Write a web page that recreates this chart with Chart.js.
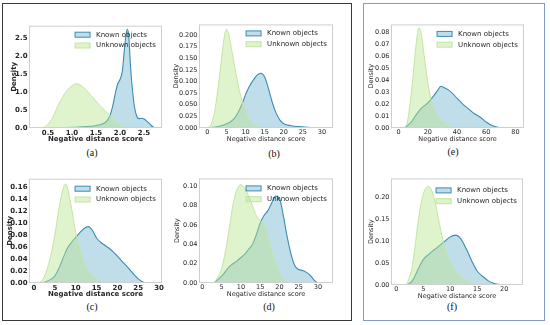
<!DOCTYPE html>
<html>
<head>
<meta charset="utf-8">
<script src="https://cdn.jsdelivr.net/npm/chart.js@4.4.0/dist/chart.umd.min.js"></script>
<style>
  body { margin: 0; background: #fff; width: 550px; height: 325px; overflow: hidden; position: relative; }
  canvas { position: absolute; }
  .box { position: absolute; box-sizing: border-box; }
  .cap { position: absolute; font: 10px "Liberation Serif"; color: #111; transform: translate(-50%, -50%); }
</style>
</head>
<body>
<div class="box" style="left:2px;top:3px;width:350px;height:318px;border:1.5px solid #3a3a3a"></div>
<div class="box" style="left:363px;top:3px;width:182px;height:318px;border:1.5px solid #7d9ccb"></div>
<script>
const legendLabels = ['Known objects', 'Unknown objects'];

// (a)
const aKnownX = [0.6, 0.8, 1.0, 1.2, 1.4, 1.5, 1.6, 1.7, 1.75, 1.8, 1.85, 1.9, 1.95, 2.0, 2.05, 2.1, 2.15, 2.18, 2.22, 2.26, 2.3, 2.35, 2.4, 2.45, 2.5, 2.55, 2.6, 2.65, 2.7, 2.75];
const aKnownY = [0, 0.01, 0.02, 0.03, 0.05, 0.07, 0.1, 0.16, 0.24, 0.38, 0.62, 0.95, 1.22, 1.35, 1.6, 2.3, 2.75, 2.6, 1.7, 1.05, 0.6, 0.32, 0.26, 0.27, 0.25, 0.2, 0.14, 0.07, 0.02, 0];
const aUnknownX = [0.2, 0.4, 0.5, 0.6, 0.7, 0.8, 0.9, 1.0, 1.1, 1.2, 1.3, 1.4, 1.5, 1.6, 1.7, 1.8, 1.9, 2.0, 2.1, 2.2];
const aUnknownY = [0, 0.02, 0.1, 0.3, 0.6, 0.85, 1.05, 1.18, 1.23, 1.17, 1.05, 0.9, 0.75, 0.6, 0.47, 0.33, 0.2, 0.08, 0.02, 0];
const aTicksX = [0.5, 1.0, 1.5, 2.0, 2.5];
const aTicksY = [0, 0.5, 1.0, 1.5, 2.0, 2.5];

// (b)
const bKnownX = [0, 2, 4, 6, 7, 8, 9, 10, 11, 12, 13, 14, 15, 16, 17, 18, 19, 20, 22, 24, 27, 30];
const bKnownY = [0, 0.002, 0.006, 0.013, 0.02, 0.033, 0.05, 0.072, 0.09, 0.103, 0.114, 0.118, 0.11, 0.085, 0.055, 0.032, 0.017, 0.009, 0.005, 0.003, 0.001, 0];
const bUnknownX = [0, 1, 2, 3, 4, 4.5, 5, 5.5, 6, 7, 8, 9, 10, 11, 12, 13, 14, 15];
const bUnknownY = [0, 0.008, 0.04, 0.1, 0.17, 0.2, 0.213, 0.205, 0.185, 0.14, 0.095, 0.06, 0.035, 0.018, 0.008, 0.003, 0.001, 0];
const bTicksX = [0, 5, 10, 15, 20, 25, 30];
const bTicksY = [0, 0.025, 0.05, 0.075, 0.1, 0.125, 0.15, 0.175, 0.2];

// (c)
const cKnownX = [2, 4, 5, 6, 7, 8, 9, 10, 11, 12, 13, 14, 15, 16, 17, 18, 19, 20, 21, 22, 23, 24, 25, 26, 27];
const cKnownY = [0, 0.006, 0.012, 0.025, 0.042, 0.058, 0.068, 0.076, 0.084, 0.091, 0.094, 0.088, 0.075, 0.068, 0.063, 0.058, 0.052, 0.045, 0.037, 0.03, 0.022, 0.014, 0.007, 0.002, 0];
const cUnknownX = [1, 2, 3, 4, 5, 6, 7, 7.5, 8, 9, 10, 11, 12, 13, 14, 15, 16, 17];
const cUnknownY = [0, 0.005, 0.02, 0.045, 0.08, 0.125, 0.158, 0.165, 0.16, 0.125, 0.085, 0.055, 0.033, 0.02, 0.012, 0.007, 0.003, 0];
const cTicksX = [0, 5, 10, 15, 20, 25, 30];
const cTicksY = [0, 0.02, 0.04, 0.06, 0.08, 0.1, 0.12, 0.14, 0.16];

// (d)
const dKnownX = [3, 5, 7, 9, 11, 12, 13, 14, 15, 16, 17, 18, 19, 20, 21, 22, 23, 24, 25, 26, 27, 28, 29, 30];
const dKnownY = [0, 0.007, 0.017, 0.023, 0.03, 0.035, 0.04, 0.05, 0.062, 0.07, 0.075, 0.083, 0.09, 0.088, 0.07, 0.048, 0.03, 0.018, 0.014, 0.013, 0.011, 0.008, 0.003, 0];
const dUnknownX = [3, 4, 5, 6, 7, 8, 9, 10, 11, 12, 13, 14, 15, 16, 17, 18, 19, 20, 21, 22];
const dUnknownY = [0, 0.006, 0.015, 0.033, 0.057, 0.082, 0.097, 0.102, 0.098, 0.09, 0.08, 0.07, 0.065, 0.06, 0.047, 0.033, 0.02, 0.01, 0.004, 0];
const dTicksX = [0, 5, 10, 15, 20, 25, 30];
const dTicksY = [0, 0.02, 0.04, 0.06, 0.08, 0.1];

// (e)
const eKnownX = [4, 8, 12, 16, 20, 24, 27, 29, 31, 34, 37, 40, 44, 48, 52, 56, 60, 64, 68, 72];
const eKnownY = [0, 0.004, 0.011, 0.017, 0.021, 0.027, 0.032, 0.035, 0.034, 0.032, 0.029, 0.025, 0.02, 0.016, 0.012, 0.009, 0.005, 0.002, 0.0007, 0];
const eUnknownX = [4, 6, 8, 10, 12, 13, 14, 15, 16, 18, 20, 22, 24, 27, 30, 34, 38];
const eUnknownY = [0, 0.005, 0.022, 0.045, 0.07, 0.08, 0.084, 0.082, 0.075, 0.056, 0.038, 0.025, 0.016, 0.009, 0.005, 0.002, 0];
const eTicksX = [0, 20, 40, 60, 80];
const eTicksY = [0, 0.01, 0.02, 0.03, 0.04, 0.05, 0.06, 0.07, 0.08];

// (f)
const fKnownX = [2, 3, 4, 5, 6, 7, 8, 9, 10, 11, 12, 13, 14, 15, 16, 17, 18, 19, 20];
const fKnownY = [0, 0.01, 0.035, 0.058, 0.07, 0.08, 0.09, 0.1, 0.11, 0.114, 0.105, 0.082, 0.055, 0.032, 0.02, 0.01, 0.004, 0.0015, 0];
const fUnknownX = [1.5, 2, 2.5, 3, 3.5, 4, 4.5, 5, 5.5, 6, 6.5, 7, 7.5, 8, 8.5, 9, 10, 11, 12, 13, 14, 15];
const fUnknownY = [0, 0.005, 0.02, 0.045, 0.09, 0.14, 0.18, 0.208, 0.222, 0.225, 0.218, 0.2, 0.172, 0.14, 0.11, 0.085, 0.052, 0.03, 0.017, 0.009, 0.004, 0];
const fTicksX = [0, 5, 10, 15, 20];
const fTicksY = [0, 0.05, 0.1, 0.15, 0.2];

const panels = [
  { kx: aKnownX, ky: aKnownY, ux: aUnknownX, uy: aUnknownY, tx: aTicksX, ty: aTicksY, dx: 1, dy: 1,
    L: 29, T: 23, R: 162, B: 128, xmin: 0.104, xmax: 2.875, ymax: 2.85, W: 19, bold: true, leg: 9, cap: '(a)', cx: 92, cy: 152 },
  { kx: bKnownX, ky: bKnownY, ux: bUnknownX, uy: bUnknownY, tx: bTicksX, ty: bTicksY, dx: 0, dy: 3,
    L: 199, T: 22, R: 333, B: 128, xmin: -2.2, xmax: 32.9, ymax: 0.2233, W: 27, bold: false, leg: 9, cap: '(b)', cx: 274, cy: 153 },
  { kx: cKnownX, ky: cKnownY, ux: cUnknownX, uy: cUnknownY, tx: cTicksX, ty: cTicksY, dx: 0, dy: 2,
    L: 29, T: 176, R: 162, B: 283, xmin: -1.2, xmax: 30.7, ymax: 0.174, W: 23, bold: true, leg: 10, cap: '(c)', cx: 92, cy: 306 },
  { kx: dKnownX, ky: dKnownY, ux: dUnknownX, uy: dUnknownY, tx: dTicksX, ty: dTicksY, dx: 0, dy: 2,
    L: 199, T: 176, R: 333, B: 283, xmin: -0.87, xmax: 33.9, ymax: 0.1084, W: 26, bold: false, leg: 10, cap: '(d)', cx: 269, cy: 306 },
  { kx: eKnownX, ky: eKnownY, ux: eUnknownX, uy: eUnknownY, tx: eTicksX, ty: eTicksY, dx: 0, dy: 2,
    L: 391, T: 22, R: 524, B: 128, xmin: -5.2, xmax: 85.9, ymax: 0.0869, W: 24, bold: false, leg: 9.5, cap: '(e)', cx: 453, cy: 151 },
  { kx: fKnownX, ky: fKnownY, ux: fUnknownX, uy: fUnknownY, tx: fTicksX, ty: fTicksY, dx: 0, dy: 2,
    L: 391, T: 176, R: 523, B: 285, xmin: -0.98, xmax: 23.5, ymax: 0.2436, W: 24, bold: false, leg: 12, cap: '(f)', cx: 452, cy: 306 }
];

const knownLine = '#3a8db3';
const knownFill = 'rgba(90,165,200,0.38)';
const unknownLine = '#c3e5a3';
const unknownFill = 'rgba(185,228,145,0.45)';

const insideLegend = {
  id: 'insideLegend',
  afterDatasetsDraw(chart, args, opts) {
    const { ctx, chartArea } = chart;
    ctx.save();
    // plot frame
    ctx.strokeStyle = '#cfcfcf';
    ctx.lineWidth = 1;
    ctx.strokeRect(chartArea.left + 0.5, chartArea.top + 0.5, chartArea.right - chartArea.left - 1, chartArea.bottom - chartArea.top - 1);
    ctx.font = '7px "DejaVu Sans"';
    const tw = Math.max(...legendLabels.map(t => ctx.measureText(t).width));
    const x0 = chartArea.right - 6 - tw - 6 - 15;
    chart.data.datasets.forEach((ds, i) => {
      const cy = chartArea.top + opts.top + i * 10.8;
      ctx.fillStyle = ds.backgroundColor;
      ctx.fillRect(x0, cy - 2.5, 15, 5);
      ctx.strokeStyle = ds.borderColor;
      ctx.strokeRect(x0, cy - 2.5, 15, 5);
      ctx.fillStyle = '#262626';
      ctx.textBaseline = 'middle';
      ctx.fillText(ds.label, x0 + 21, cy);
    });
    ctx.restore();
  }
};

panels.forEach(p => {
  const padTop = 3, padRight = 3, xH = 15;
  const canvas = document.createElement('canvas');
  const w = p.W + (p.R - p.L) + padRight;
  const h = padTop + (p.B - p.T) + xH;
  canvas.width = w;
  canvas.height = h;
  canvas.style.left = (p.L - p.W) + 'px';
  canvas.style.top = (p.T - padTop) + 'px';
  canvas.style.width = w + 'px';
  canvas.style.height = h + 'px';
  document.body.appendChild(canvas);

  const cap = document.createElement('div');
  cap.className = 'cap';
  cap.textContent = p.cap;
  cap.style.left = p.cx + 'px';
  cap.style.top = p.cy + 'px';
  document.body.appendChild(cap);

  const weight = p.bold ? 'bold' : 'normal';
  const tickFont = { family: 'DejaVu Sans', size: p.bold ? 7 : 6.5, weight };

  new Chart(canvas, {
    type: 'line',
    data: {
      datasets: [
        {
          label: legendLabels[0],
          data: p.kx.map((x, i) => ({ x, y: p.ky[i] })),
          borderColor: knownLine,
          backgroundColor: knownFill,
          borderWidth: 1.1,
          fill: 'origin',
          order: 2
        },
        {
          label: legendLabels[1],
          data: p.ux.map((x, i) => ({ x, y: p.uy[i] })),
          borderColor: unknownLine,
          backgroundColor: unknownFill,
          borderWidth: 1,
          fill: 'origin',
          order: 1
        }
      ]
    },
    options: {
      responsive: false,
      animation: false,
      devicePixelRatio: 1,
      layout: { padding: { top: padTop, right: padRight, left: 0, bottom: 0 } },
      elements: { point: { radius: 0 }, line: { cubicInterpolationMode: 'monotone' } },
      plugins: { legend: { display: false }, tooltip: { enabled: false }, insideLegend: { top: p.leg } },
      scales: {
        x: {
          type: 'linear',
          min: p.xmin,
          max: p.xmax,
          grid: { display: false, drawTicks: false },
          border: { display: false },
          afterBuildTicks: s => { s.ticks = p.tx.map(v => ({ value: v })); },
          afterFit: s => { s.height = xH; },
          ticks: { padding: 0.5, color: '#262626', font: tickFont, maxRotation: 0, autoSkip: false,
                   callback: v => v.toFixed(p.dx) },
          title: { display: true, text: 'Negative distance score', color: '#262626', font: tickFont, padding: 0 }
        },
        y: {
          min: 0,
          max: p.ymax,
          grid: { display: false, drawTicks: false },
          border: { display: false },
          afterBuildTicks: s => { s.ticks = p.ty.map(v => ({ value: v })); },
          afterFit: s => { s.width = p.W; },
          ticks: { padding: 1.5, color: '#262626', font: tickFont, autoSkip: false,
                   callback: v => v.toFixed(p.dy) },
          title: { display: true, text: 'Density', color: '#262626', font: tickFont, padding: 0 }
        }
      }
    },
    plugins: [insideLegend]
  });
});
</script>
</body>
</html>
